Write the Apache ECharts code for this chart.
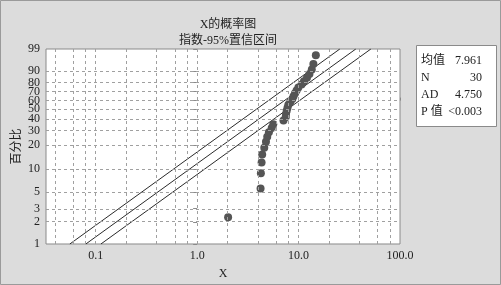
<!DOCTYPE html>
<html><head><meta charset="utf-8">
<script src="https://cdn.jsdelivr.net/npm/echarts@6/dist/echarts.min.js"></script>
<style>html,body{margin:0;padding:0;background:#dcdcdc}#c{width:501px;height:285px}</style>
</head><body><div id="c"></div>
<script>
// ---- data ----
const xTickVals = [0.1, 1, 10, 100];
const xTickLabels = ['0.1', '1.0', '10.0', '100.0'];
const xGridVals = [0.04, 0.06, 0.08, 0.1, 0.2, 0.4, 0.6, 0.8, 1, 2, 4, 6, 8, 10, 20, 40, 60, 80];
const yTickVals = [1, 2, 3, 5, 10, 20, 30, 40, 50, 60, 70, 80, 90, 99];
const xValues = [2.02, 4.22, 4.25, 4.32, 4.38, 4.59, 4.77, 4.91, 5.10, 5.43, 5.63,
  7.10, 7.47, 7.52, 7.64, 7.78, 7.93, 8.29, 8.68, 8.92, 9.23, 9.56, 9.95,
  10.7, 11.3, 12.1, 12.8, 13.5, 14.0, 14.8];
const pctValues = [2.30, 5.59, 8.88, 12.17, 15.46, 18.75, 22.04, 25.33, 28.62, 31.91,
  35.20, 38.49, 41.78, 45.07, 48.36, 51.64, 54.93, 58.22, 61.51, 64.80,
  68.09, 71.38, 74.67, 77.96, 81.25, 84.54, 87.83, 91.12, 94.41, 97.70];
const fitLine = [[0.0800, 1], [36.66, 99]];
const ciLower = [[0.0556, 1], [25.5, 99]];
const ciUpper = [[0.1126, 1], [51.6, 99]];
const statLabels = ['均值', 'N', 'AD', 'P 值'];
const statValues = ['7.961', '30', '4.750', '<0.003'];
const titleText = 'X的概率图';
const subtitleText = '指数-95%置信区间';

// ---- scales ----
const tx = v => Math.log10(v);
const ty = p => Math.log10(-Math.log(1 - p / 100));
const FONT = '"Liberation Serif","Noto Sans CJK SC",serif';
const yTickW = yTickVals.map(ty);
const xTickW = xTickVals.map(tx);
const pts = xValues.map((x, i) => [tx(x), ty(pctValues[i])]);
const conv = arr => arr.map(d => [tx(d[0]), ty(d[1])]);
const gridStyle = {color: '#a0a0a0', type: [3, 3], width: 1};

const lineSeries = (d) => ({type: 'line', data: conv(d), symbol: 'none', silent: true,
  lineStyle: {color: '#2a2a2a', width: 1}, z: 3});

const chart = echarts.init(document.getElementById('c'), null, {renderer: 'canvas'});
const statGraphics = [{type: 'rect', shape: {x: 416.5, y: 45.5, width: 80, height: 81},
  style: {fill: '#fff', stroke: '#8a8a8a', lineWidth: 1}}];
statLabels.forEach((l, i) => {
  statGraphics.push({type: 'text', left: 421, top: 55 + i * 17,
    style: {text: l, font: '12px ' + FONT, fill: '#222'}});
  statGraphics.push({type: 'text', right: 19, top: 55 + i * 17,
    style: {text: statValues[i], font: '12px ' + FONT, fill: '#222', textAlign: 'right'}});
});

chart.setOption({
  animation: false,
  backgroundColor: '#dcdcdc',
  title: {text: titleText + '\n' + subtitleText, left: 223, top: 12, textAlign: 'center',
    textStyle: {fontFamily: FONT, fontSize: 12, fontWeight: 'normal', color: '#222', lineHeight: 16}},
  grid: {left: 46, right: 101, top: 49, bottom: 37, show: true, backgroundColor: '#fff',
    borderColor: '#8a8a8a', borderWidth: 1},
  xAxis: {type: 'value', min: -1.49, max: 2, name: 'X', nameLocation: 'middle', nameGap: 24,
    nameMoveOverlap: false,
    nameTextStyle: {fontFamily: FONT, fontSize: 12, color: '#222'},
    axisLine: {show: false}, splitLine: {show: false},
    axisTick: {show: true, customValues: xTickW, length: 3, inside: false, lineStyle: {color: '#8a8a8a'}},
    axisLabel: {customValues: xTickW, fontFamily: FONT, fontSize: 12, color: '#222', margin: 6,
      formatter: v => { const i = xTickW.findIndex(w => Math.abs(w - v) < 1e-6); return i >= 0 ? xTickLabels[i] : ''; }}},
  yAxis: {type: 'value', min: ty(1), max: ty(99), name: '百分比', nameLocation: 'middle', nameGap: 23,
    nameRotate: 90, nameMoveOverlap: false,
    nameTextStyle: {fontFamily: FONT, fontSize: 12, color: '#222'},
    axisLine: {show: false}, splitLine: {show: false},
    axisTick: {show: true, customValues: yTickW, length: 4, lineStyle: {color: '#8a8a8a'}},
    axisLabel: {customValues: yTickW, fontFamily: FONT, fontSize: 12, color: '#222', margin: 6,
      formatter: v => { const i = yTickW.findIndex(w => Math.abs(w - v) < 1e-6); return i >= 0 ? String(yTickVals[i]) : ''; }}},
  graphic: statGraphics.concat([{type: 'rect', shape: {x: 0.5, y: 0.5, width: 500, height: 284},
    style: {fill: 'none', stroke: '#9a9a9a', lineWidth: 1}}]),
  series: [
    {type: 'scatter', data: [], silent: true,
      markLine: {silent: true, symbol: 'none', label: {show: false}, lineStyle: gridStyle,
        data: xGridVals.map(v => ({xAxis: tx(v)})).concat(yTickVals.slice(1, -1).map(p => ({yAxis: ty(p)})))}},
    lineSeries(ciLower), lineSeries(fitLine), lineSeries(ciUpper),
    {type: 'scatter', data: pts, symbol: 'circle', symbolSize: 8, itemStyle: {color: '#555', opacity: 1}, z: 4}
  ]
});
</script></body></html>
